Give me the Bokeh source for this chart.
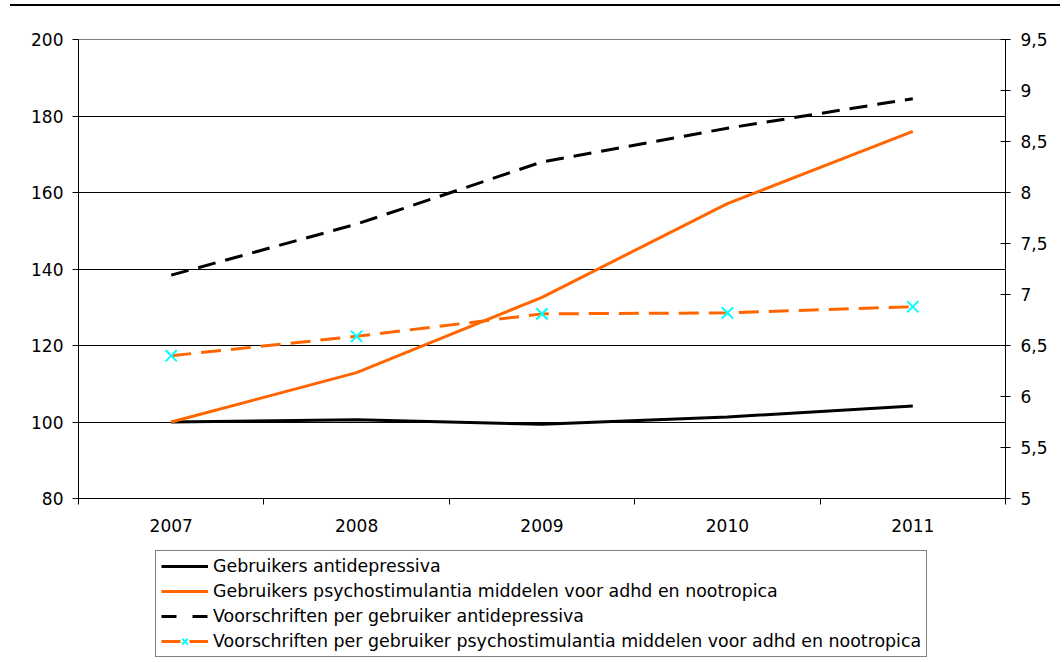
from bokeh.plotting import figure
from bokeh.models import (Range1d, LinearAxis, FixedTicker, CustomJSTickFormatter,
                          Legend, LegendItem, Div)
from bokeh.layouts import column
from bokeh.embed import file_html
from bokeh.resources import INLINE

years = [2007, 2008, 2009, 2010, 2011]
gebruikers_antidepressiva = [100, 100.6, 99.4, 101.3, 104.2]
gebruikers_psychostimulantia = [100, 112.9, 132.6, 157.1, 176.0]
voorschriften_antidepressiva = [7.19, 7.69, 8.30, 8.63, 8.92]
voorschriften_psychostimulantia = [6.40, 6.59, 6.81, 6.82, 6.88]

left_ticks = [80, 100, 120, 140, 160, 180, 200]
right_ticks = [5, 5.5, 6, 6.5, 7, 7.5, 8, 8.5, 9, 9.5]

labels = [
    "Gebruikers antidepressiva",
    "Gebruikers psychostimulantia middelen voor adhd en nootropica",
    "Voorschriften per gebruiker antidepressiva",
    "Voorschriften per gebruiker psychostimulantia middelen voor adhd en nootropica",
]

FONT = "DejaVu Sans"
FS = "17px"
LFS = "17.4px"
ORANGE = "#FF6600"
CYAN = "#00FFFF"

top_rule = Div(text="", width=1050, height=6, margin=(0, 0, 0, 10),
               styles={"border-bottom": "2px solid black", "box-sizing": "border-box"})

p = figure(width=1060, height=536, output_backend="svg", toolbar_location=None,
           x_range=Range1d(2006.5, 2011.5), y_range=Range1d(80, 200),
           min_border_left=78, min_border_right=55, min_border_top=33,
           min_border_bottom=44)
p.outline_line_color = "#808080"
p.outline_line_width = 1
p.background_fill_color = "white"
p.border_fill_color = "white"
p.extra_y_ranges = {"right": Range1d(5, 9.5)}

# x axis
xa = p.xaxis[0]
xa.ticker = FixedTicker(ticks=years, minor_ticks=[y - 0.5 for y in years] + [years[-1] + 0.5])
xa.major_tick_line_color = None
xa.major_tick_out = 6
xa.major_tick_in = 0
xa.minor_tick_out = 6
xa.minor_tick_in = 0
xa.minor_tick_line_color = "black"
xa.axis_line_color = "black"
xa.major_label_standoff = 14
xa.major_label_text_font = FONT
xa.major_label_text_font_size = FS
xa.major_label_text_color = "black"

# left axis
ya = p.yaxis[0]
ya.ticker = FixedTicker(ticks=left_ticks)
ya.minor_tick_line_color = None
ya.major_tick_out = 6
ya.major_tick_in = 0
ya.major_tick_line_color = "black"
ya.axis_line_color = "black"
ya.major_label_standoff = 9
ya.major_label_text_font = FONT
ya.major_label_text_font_size = FS
ya.major_label_text_color = "black"

# right axis
ra = LinearAxis(y_range_name="right", ticker=FixedTicker(ticks=right_ticks),
                formatter=CustomJSTickFormatter(code="return tick.toString().replace('.', ',');"))
ra.minor_tick_line_color = None
ra.major_tick_out = 5
ra.major_tick_in = 5
ra.major_tick_line_color = "black"
ra.axis_line_color = "black"
ra.major_label_standoff = 10
ra.major_label_text_font = FONT
ra.major_label_text_font_size = FS
ra.major_label_text_color = "black"
p.add_layout(ra, "right")

p.xgrid.grid_line_color = None
p.ygrid.ticker = FixedTicker(ticks=left_ticks[1:])
p.ygrid.grid_line_color = "black"
p.ygrid.grid_line_width = 1

p.line(years, gebruikers_antidepressiva, line_color="black", line_width=3)
p.line(years, gebruikers_psychostimulantia, line_color=ORANGE, line_width=3)
p.line(years, voorschriften_antidepressiva, line_color="black", line_width=3,
       line_dash="18 10", y_range_name="right")
p.line(years, voorschriften_psychostimulantia, line_color=ORANGE, line_width=3,
       line_dash="20 10", y_range_name="right")
p.scatter(years, voorschriften_psychostimulantia, marker="x", size=16,
          line_color=CYAN, line_width=2, y_range_name="right")

# legend panel below the chart (series re-drawn out of view, only for the legend glyphs)
p2 = figure(width=1060, height=118, output_backend="svg", toolbar_location=None,
            x_range=Range1d(0, 1), y_range=Range1d(0, 1), min_border=0)
p2.axis.visible = False
p2.grid.visible = False
p2.outline_line_color = None
p2.background_fill_color = "white"
p2.border_fill_color = "white"

l1 = p2.line(years, gebruikers_antidepressiva, line_color="black", line_width=3)
l2 = p2.line(years, gebruikers_psychostimulantia, line_color=ORANGE, line_width=3)
l3 = p2.line(years, voorschriften_antidepressiva, line_color="black", line_width=3,
             line_dash="15 16")
l4 = p2.line(years, voorschriften_psychostimulantia, line_color=ORANGE, line_width=3,
             line_dash="19 9")
l5 = p2.scatter(years, voorschriften_psychostimulantia, marker="x", size=16,
                line_color=CYAN, line_width=2)

legend = Legend(items=[
    LegendItem(label=labels[0], renderers=[l1]),
    LegendItem(label=labels[1], renderers=[l2]),
    LegendItem(label=labels[2], renderers=[l3]),
    LegendItem(label=labels[3], renderers=[l4, l5]),
], location=(77, 3), orientation="vertical")
legend.glyph_width = 47
legend.glyph_height = 20
legend.label_height = 20
legend.label_standoff = 5
legend.spacing = 5
legend.padding = 5
legend.margin = 0
legend.border_line_color = "black"
legend.border_line_width = 1
legend.background_fill_color = "white"
legend.background_fill_alpha = 1
legend.label_text_font = FONT
legend.label_text_font_size = LFS
legend.label_text_color = "black"
p2.add_layout(legend, "center")

layout = column(top_rule, p, p2, spacing=0)
open("out.html", "w").write(file_html(layout, INLINE))
